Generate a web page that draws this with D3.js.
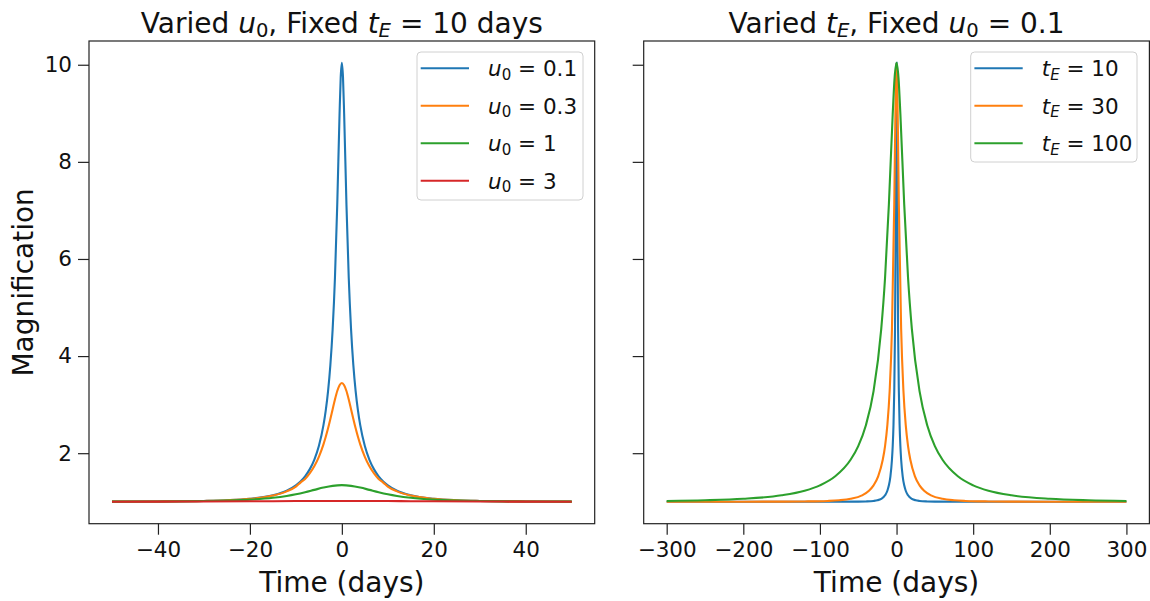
<!DOCTYPE html>
<html>
<head>
<meta charset="utf-8">
<script src="https://cdn.jsdelivr.net/npm/d3@7"></script>
<style>
  body { margin: 0; background: #fff; }
  svg { display: block; font-family: "DejaVu Sans", sans-serif; }
</style>
</head>
<body>
<svg id="chart" width="1150" height="601"></svg>
<script>
// left panel: varied u0, tE = 10 days
const timesU01 = [-50, -40, -30, -25, -20, -15, -12, -10, -9, -8, -7, -6, -5, -4, -3.5, -3, -2.5, -2, -1.5, -1, -0.5, -0.25, 0,
  0.25, 0.5, 1, 1.5, 2, 2.5, 3, 3.5, 4, 5, 6, 7, 8, 9, 10, 12, 15, 20, 25, 30, 40, 50];
const magU01 = [1.0028, 1.0062, 1.0169, 1.0307, 1.0604, 1.1326, 1.227, 1.338, 1.4185, 1.524, 1.667, 1.864, 2.147, 2.577, 2.882, 3.280, 3.814, 4.556, 5.614, 7.124, 8.986, 9.740, 10.04,
  9.740, 8.986, 7.124, 5.614, 4.556, 3.814, 3.280, 2.882, 2.577, 2.147, 1.864, 1.667, 1.524, 1.4185, 1.338, 1.227, 1.1326, 1.0604, 1.0307, 1.0169, 1.0062, 1.0028];

const timesU03 = [-50, -40, -30, -25, -20, -15, -12, -10, -9, -8, -7, -6, -5, -4, -3.5, -3, -2.5, -2, -1.5, -1, -0.5, 0,
  0.5, 1, 1.5, 2, 2.5, 3, 3.5, 4, 5, 6, 7, 8, 9, 10, 12, 15, 20, 25, 30, 40, 50];
const magU03 = [1.0027, 1.0061, 1.0167, 1.0301, 1.0587, 1.1268, 1.2136, 1.312, 1.395, 1.469, 1.583, 1.731, 1.926, 2.183, 2.339, 2.513, 2.705, 2.907, 3.106, 3.280, 3.401, 3.445,
  3.401, 3.280, 3.106, 2.907, 2.705, 2.513, 2.339, 2.183, 1.926, 1.731, 1.583, 1.469, 1.395, 1.312, 1.2136, 1.1268, 1.0587, 1.0301, 1.0167, 1.0061, 1.0027];

const timesU1 = [-50, -40, -30, -25, -20, -15, -12, -10, -8, -6, -4, -2, 0, 2, 4, 6, 8, 10, 12, 15, 20, 25, 30, 40, 50];
const magU1 = [1.0026, 1.0056, 1.0142, 1.0242, 1.0435, 1.0816, 1.1201, 1.1547, 1.1969, 1.2445, 1.2916, 1.3278, 1.3416,
  1.3278, 1.2916, 1.2445, 1.1969, 1.1547, 1.1201, 1.0816, 1.0435, 1.0242, 1.0142, 1.0056, 1.0026];

const timesU3 = [-50, -40, -30, -20, -15, -10, -5, 0, 5, 10, 15, 20, 30, 40, 50];
const magU3 = [1.0015, 1.0028, 1.0050, 1.0090, 1.0116, 1.0142, 1.0162, 1.0170, 1.0162, 1.0142, 1.0116, 1.0090, 1.0050, 1.0028, 1.0015];

// right panel: varied tE, u0 = 0.1
const timesTE10 = [-300, -200, -100, -50, -40, -30, -25, -20, -15, -12, -10, -8, -6, -5, -4, -3, -2, -1, -0.5, 0,
  0.5, 1, 2, 3, 4, 5, 6, 8, 10, 12, 15, 20, 25, 30, 40, 50, 100, 200, 300];
const magTE10 = [1.0000, 1.0000, 1.0002, 1.0028, 1.0062, 1.0169, 1.0307, 1.0604, 1.1326, 1.227, 1.338, 1.524, 1.864, 2.147, 2.577, 3.280, 4.556, 7.124, 8.986, 10.04,
  8.986, 7.124, 4.556, 3.280, 2.577, 2.147, 1.864, 1.524, 1.338, 1.227, 1.1326, 1.0604, 1.0307, 1.0169, 1.0062, 1.0028, 1.0002, 1.0000, 1.0000];

const timesTE30 = [-300, -200, -150, -120, -90, -75, -60, -45, -36, -30, -24, -18, -15, -12, -9, -6, -3, -1.5, 0,
  1.5, 3, 6, 9, 12, 15, 18, 24, 30, 36, 45, 60, 75, 90, 120, 150, 200, 300];
const magTE30 = [1.0002, 1.0010, 1.0028, 1.0062, 1.0169, 1.0307, 1.0604, 1.1326, 1.227, 1.338, 1.524, 1.864, 2.147, 2.577, 3.280, 4.556, 7.124, 8.986, 10.04,
  8.986, 7.124, 4.556, 3.280, 2.577, 2.147, 1.864, 1.524, 1.338, 1.227, 1.1326, 1.0604, 1.0307, 1.0169, 1.0062, 1.0028, 1.0010, 1.0002];

const timesTE100 = [-300, -250, -200, -150, -120, -100, -80, -60, -50, -40, -30, -20, -15, -10, -5, -2.5, 0,
  2.5, 5, 10, 15, 20, 30, 40, 50, 60, 80, 100, 120, 150, 200, 250, 300];
const magTE100 = [1.0169, 1.0307, 1.0604, 1.1326, 1.227, 1.338, 1.524, 1.864, 2.147, 2.577, 3.280, 4.556, 5.614, 7.124, 8.986, 9.740, 10.04,
  9.740, 8.986, 7.124, 5.614, 4.556, 3.280, 2.577, 2.147, 1.864, 1.524, 1.338, 1.227, 1.1326, 1.0604, 1.0307, 1.0169];

const leftTicksX = [-40, -20, 0, 20, 40];
const rightTicksX = [-300, -200, -100, 0, 100, 200, 300];
const ticksY = [2, 4, 6, 8, 10];

const colors = ["#1f77b4", "#ff7f0e", "#2ca02c", "#d62728"];

const leftSeries = [
  { t: timesU01, a: magU01, sym: "u", sub: "0", val: "0.1" },
  { t: timesU03, a: magU03, sym: "u", sub: "0", val: "0.3" },
  { t: timesU1, a: magU1, sym: "u", sub: "0", val: "1" },
  { t: timesU3, a: magU3, sym: "u", sub: "0", val: "3" },
];
const rightSeries = [
  { t: timesTE10, a: magTE10, sym: "t", sub: "E", val: "10" },
  { t: timesTE30, a: magTE30, sym: "t", sub: "E", val: "30" },
  { t: timesTE100, a: magTE100, sym: "t", sub: "E", val: "100" },
];

const svg = d3.select("#chart");
const plotTop = 41, plotBottom = 523.7;
const tickFont = 21.5, labelFont = 28, legendFont = 21.5;

const y = d3.scaleLinear().domain([0.548, 10.489]).range([plotBottom, plotTop]);

// writes math-ish text like "u_0 = 0.1" into a text node
function mathText(sel, parts) {
  parts.forEach(p => {
    if (p.type === "it") sel.append("tspan").attr("font-style", "italic").text(p.s);
    else if (p.type === "sub") sel.append("tspan").attr("font-style", p.italic ? "italic" : null)
      .attr("font-size", "70%").attr("dy", "0.22em").text(p.s);
    else sel.append("tspan").attr("dy", p.up ? "-0.154em" : null).text(p.s);
  });
}

function panel(x0, x1, domain, xticks, series, showYLabels, title, legendBox) {
  const x = d3.scaleLinear().domain(domain).range([x0, x1]);
  const g = svg.append("g");

  const line = d3.line().x(d => x(d[0])).y(d => y(d[1])).curve(d3.curveMonotoneX);
  series.forEach((s, i) => {
    g.append("path")
      .datum(s.t.map((t, j) => [t, s.a[j]]))
      .attr("fill", "none")
      .attr("stroke", colors[i])
      .attr("stroke-width", 2.1)
      .attr("d", line);
  });

  // frame
  g.append("rect")
    .attr("x", x0).attr("y", plotTop)
    .attr("width", x1 - x0).attr("height", plotBottom - plotTop)
    .attr("fill", "none").attr("stroke", "#222").attr("stroke-width", 1.2);

  const xAxis = g.append("g")
    .attr("transform", `translate(0,${plotBottom})`)
    .call(d3.axisBottom(x).tickValues(xticks).tickSize(11).tickPadding(7)
      .tickFormat(d => d < 0 ? "\u2212" + Math.abs(d) : d));
  xAxis.select(".domain").remove();
  xAxis.selectAll("line").attr("stroke", "#222").attr("stroke-width", 1.2);
  xAxis.selectAll("text").attr("font-size", tickFont).attr("fill", "#111")
    .attr("font-family", "DejaVu Sans");

  const yAxis = g.append("g")
    .attr("transform", `translate(${x0},0)`)
    .call(d3.axisLeft(y).tickValues(ticksY).tickSize(11).tickPadding(6)
      .tickFormat(showYLabels ? d3.format("d") : () => ""));
  yAxis.select(".domain").remove();
  yAxis.selectAll("line").attr("stroke", "#222").attr("stroke-width", 1.2);
  yAxis.selectAll("text").attr("font-size", tickFont).attr("fill", "#111")
    .attr("font-family", "DejaVu Sans");

  // title
  const tt = g.append("text")
    .attr("x", (x0 + x1) / 2).attr("y", 33)
    .attr("text-anchor", "middle")
    .attr("font-size", labelFont).attr("fill", "#111");
  mathText(tt, title);

  g.append("text")
    .attr("x", (x0 + x1) / 2).attr("y", 592)
    .attr("text-anchor", "middle")
    .attr("font-size", labelFont).attr("fill", "#111")
    .text("Time (days)");

  // legend
  const lg = g.append("g");
  lg.append("rect")
    .attr("x", legendBox.x).attr("y", legendBox.y)
    .attr("width", legendBox.w).attr("height", legendBox.h)
    .attr("rx", 4)
    .attr("fill", "#fff").attr("fill-opacity", 0.8)
    .attr("stroke", "#d0d0d0").attr("stroke-width", 1);
  series.forEach((s, i) => {
    const ry = legendBox.y + 16.3 + i * 37.5;
    lg.append("line")
      .attr("x1", legendBox.x + 3.7).attr("x2", legendBox.x + 52)
      .attr("y1", ry).attr("y2", ry)
      .attr("stroke", colors[i]).attr("stroke-width", 2.1);
    const t = lg.append("text")
      .attr("x", legendBox.x + 71).attr("y", ry + 8)
      .attr("font-size", legendFont).attr("fill", "#111");
    mathText(t, [
      { type: "it", s: s.sym },
      { type: "sub", s: s.sub, italic: s.sub === "E" },
      { type: "n", s: " = " + s.val, up: true },
    ]);
  });
}

panel(89, 594.7, [-55, 55], leftTicksX, leftSeries, true, [
  { type: "n", s: "Varied " }, { type: "it", s: "u" }, { type: "sub", s: "0" },
  { type: "n", s: ", Fixed ", up: true }, { type: "it", s: "t" }, { type: "sub", s: "E", italic: true },
  { type: "n", s: " = 10 days", up: true },
], { x: 417, y: 52, w: 166, h: 148 });

panel(643.7, 1149.4, [-330, 330], rightTicksX, rightSeries, false, [
  { type: "n", s: "Varied " }, { type: "it", s: "t" }, { type: "sub", s: "E", italic: true },
  { type: "n", s: ", Fixed ", up: true }, { type: "it", s: "u" }, { type: "sub", s: "0" },
  { type: "n", s: " = 0.1", up: true },
], { x: 970.7, y: 52, w: 166.3, h: 110 });

// y label
svg.append("text")
  .attr("transform", `translate(32.5,${(plotTop + plotBottom) / 2}) rotate(-90)`)
  .attr("text-anchor", "middle")
  .attr("font-size", labelFont).attr("fill", "#111")
  .text("Magnification");
</script>
</body>
</html>
